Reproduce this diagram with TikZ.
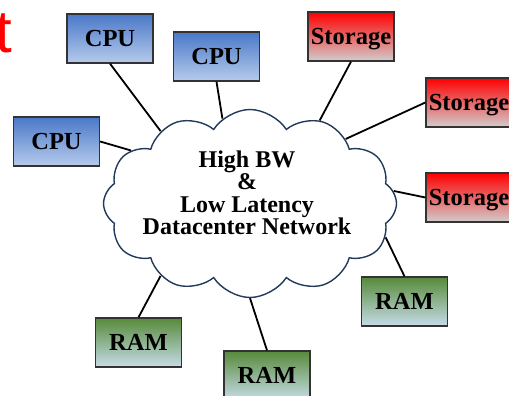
\documentclass[tikz,border=0pt]{standalone}
\usepackage{fontspec}
\setmainfont{Liberation Serif}
\newfontfamily\headsans{Liberation Sans}
\usetikzlibrary{shapes.symbols}
\definecolor{cpuTop}{HTML}{4A78C8}
\definecolor{cpuBot}{HTML}{B6CBEC}
\definecolor{stoTop}{HTML}{FF0000}
\definecolor{stoBot}{HTML}{D2CCCC}
\definecolor{ramTop}{HTML}{578A3A}
\definecolor{ramMid}{HTML}{9CCB8A}
\definecolor{ramBot}{HTML}{C6DCE8}
\definecolor{cloudEdge}{HTML}{213A5C}
\begin{document}
\begin{tikzpicture}[x=1pt,y=-1pt,
  box/.style={draw=black!80, line width=1.3pt, minimum width=86pt, minimum height=49pt,
    inner sep=0pt, text height=16pt, text depth=0pt,
    font=\bfseries\fontsize{24.5}{24.5}\selectfont},
  cpubox/.style={box, top color=cpuTop, bottom color=cpuBot},
  stobox/.style={box, top color=stoTop, bottom color=stoBot},
  rambox/.style={box, top color=ramTop, middle color=ramMid, bottom color=ramBot},
  link/.style={draw=black, line width=1.8pt},
  netcloud/.style={cloud, cloud puffs=12, cloud puff arc=115, aspect=1.56,
    draw=cloudEdge, line width=1.4pt, fill=white,
    minimum width=293pt, minimum height=188pt, inner sep=0pt}]
\useasboundingbox (0,0) rectangle (509,396);
\clip (0,0) rectangle (509,396);

% big red letter at the top left
\node[anchor=base west, inner sep=0pt, text=red,
  font=\headsans\fontsize{60}{60}\selectfont] (cut) at (-5,53) {t};

% network cloud
\node[netcloud] (net) at (250,203.5) {};
\node[align=center, inner sep=0pt, font=\bfseries\fontsize{24}{22.5}\selectfont]
  (netlabel) at (247,193) {High BW\\\&\\Low Latency\\Datacenter Network};

% processors
\node[cpubox] (cpuA) at (110,38.5) {CPU};
\node[cpubox] (cpuB) at (216.5,56.5) {CPU};
\node[cpubox] (cpuC) at (56.5,141.5) {CPU};

% storage
\node[stobox] (stoA) at (351,36.5) {Storage};
\node[stobox] (stoB) at (469,102.5) {Storage};
\node[stobox] (stoC) at (469,197.5) {Storage};

% memory
\node[rambox] (ramA) at (404.5,301.5) {RAM};
\node[rambox] (ramB) at (138.5,342.5) {RAM};
\node[rambox] (ramC) at (267,375.5) {RAM};

% links into the network
\draw[link] (cpuA.south) -- (net.141);
\draw[link] (cpuB.south) -- (net.108);
\draw[link] (cpuC.east) -- (net.156);
\draw[link] (stoA.south) -- (net.50);
\draw[link] (stoB.west) -- (net.34);
\draw[link] (stoC.west) -- (net.5);
\draw[link] (ramA.north) -- (net.-14);
\draw[link] (ramB.north) -- (net.219);
\draw[link] (ramC.north) -- (net.270);
\end{tikzpicture}
\end{document}
